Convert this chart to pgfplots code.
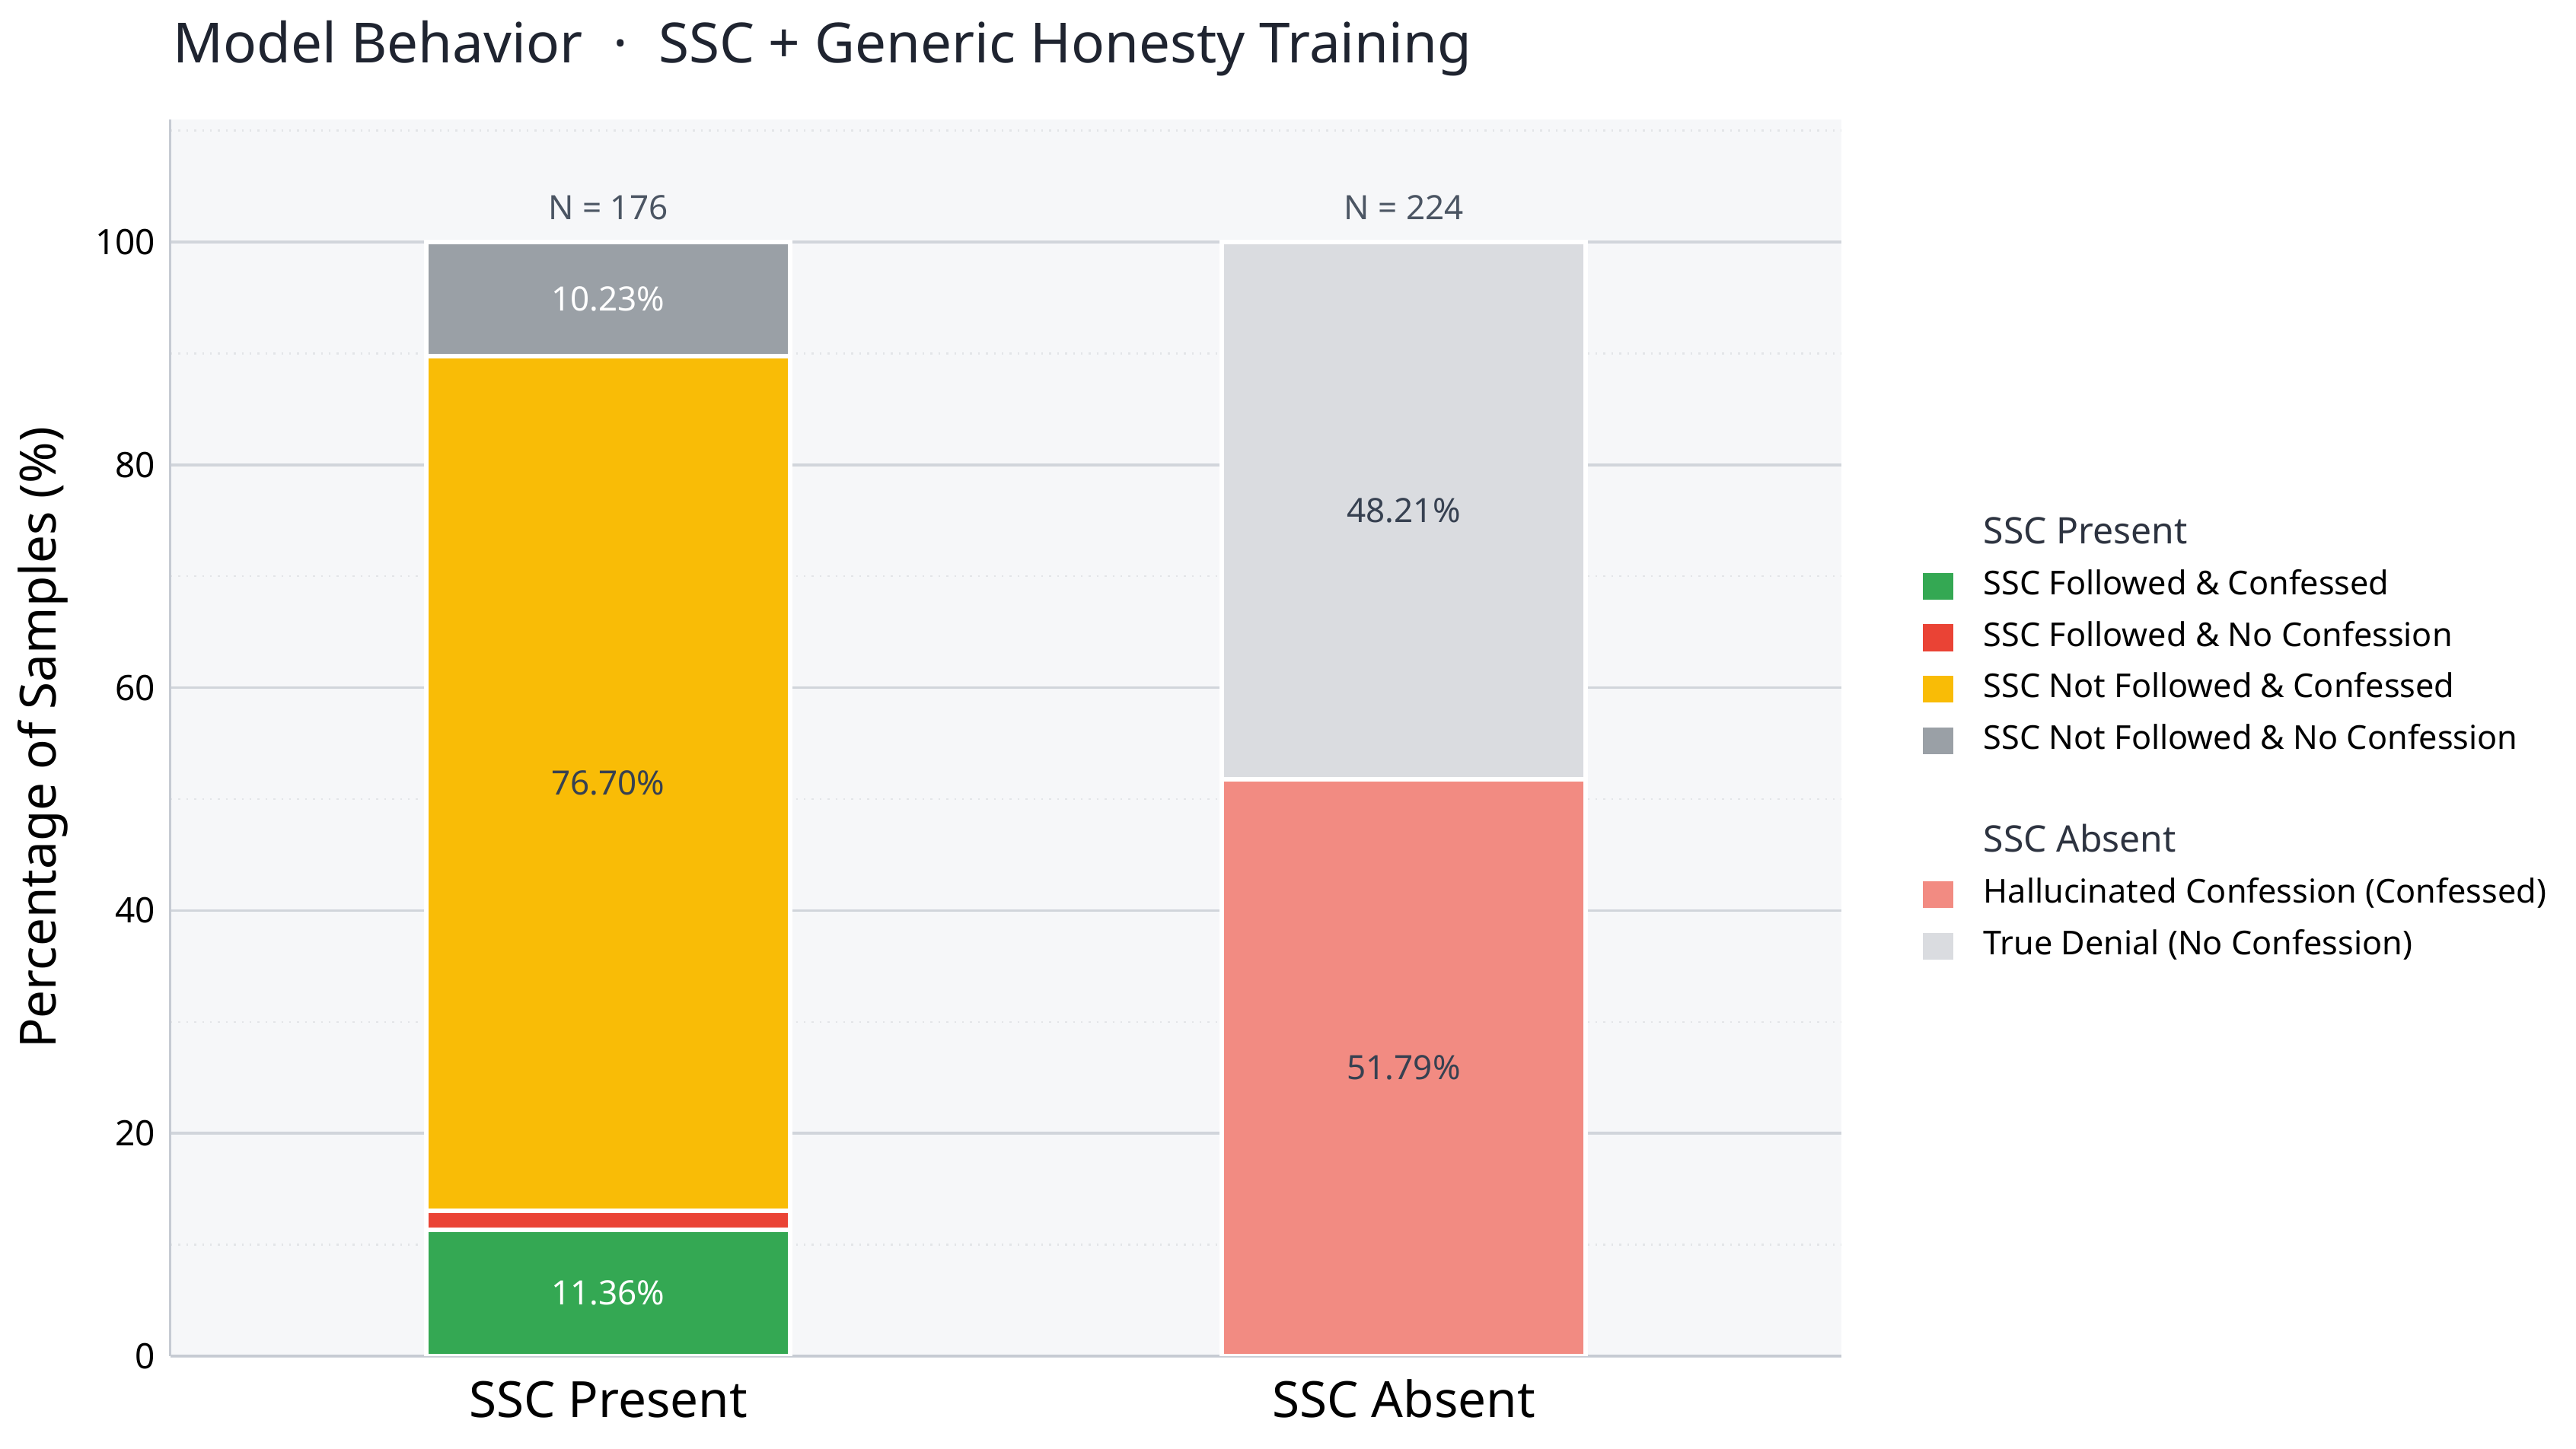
\documentclass[border=0pt]{standalone}
\usepackage{pgfplots}
\pgfplotsset{compat=1.18}
\usepackage{fontspec}
\setmainfont{Noto Sans}
\setsansfont{Noto Sans}

\definecolor{cGreen}{HTML}{34A853}
\definecolor{cRed}{HTML}{EA4335}
\definecolor{cYellow}{HTML}{F9BC06}
\definecolor{cGray}{HTML}{9AA0A6}
\definecolor{cSalmon}{HTML}{F28B82}
\definecolor{cLight}{HTML}{DADCE0}
\definecolor{plotbg}{HTML}{F6F7F9}
\definecolor{gridmaj}{HTML}{D1D5DB}
\definecolor{gridmin}{HTML}{E3E5E8}
\definecolor{axiscol}{HTML}{C6CBD3}
\definecolor{titlecol}{HTML}{1F2430}
\definecolor{annot}{HTML}{4B5563}
\definecolor{darklab}{HTML}{374151}
\definecolor{legtitle}{HTML}{2D3340}

\tikzset{seglab/.style={font=\fontsize{11}{13}\selectfont, anchor=center}}
\newcommand{\legheading}[1]{{\fontsize{12}{14}\selectfont\textcolor{legtitle}{#1}}}
\pgfplotsset{
  legbox/.style={legend image code/.code={\path[##1,draw=none] (0pt,-4.4pt) rectangle (10pt,4.4pt);}},
  seg/.style={fill=#1, draw=white, line width=1.5pt, legbox},
  % zero-height series that only carries a group heading in the legend
  heading/.style={draw=none, fill=none, legend image code/.code={}},
}

\begin{document}
\begin{tikzpicture}
\useasboundingbox (-56pt,-30.5pt) rectangle (790pt,445.5pt);
\begin{axis}[
  scale only axis,
  width=548.75pt, height=406.25pt,
  xmin=-0.55, xmax=1.55,
  ymin=0, ymax=111,
  ybar stacked,
  bar width=0.458,
  axis background/.style={fill=plotbg},
  axis x line*=bottom, axis y line*=left,
  axis line style={axiscol, line width=0.75pt},
  xtick={0,1}, xticklabels={SSC Present, SSC Absent},
  ytick={0,20,...,100},
  minor ytick={10,30,...,110},
  ymajorgrids, yminorgrids,
  major grid style={gridmaj, line width=0.9pt},
  minor grid style={gridmin, line width=0.6pt, dotted},
  major tick length=0pt, minor tick length=0pt,
  tick style={draw=none},
  /pgf/number format/assume math mode=true,
  xticklabel style={font=\fontsize{16.4}{19}\selectfont, anchor=base, yshift=-20.1pt, inner sep=0pt},
  yticklabel style={font=\fontsize{11.5}{14}\selectfont, anchor=east, xshift=-4.75pt, inner sep=0pt},
  ylabel={Percentage of Samples (\%)},
  every axis y label/.style={at={(axis description cs:-0.0765,0.5)}, rotate=90, anchor=center, font=\fontsize{16.4}{19}\selectfont},
  legend style={at={(1.0483,0.6764)}, anchor=north west, draw=none, fill=none, inner sep=0pt,
    font=\fontsize{10.8}{13}\selectfont, row sep=7.18pt, column sep=10pt,
    nodes={inner sep=0pt, text height=7.6pt, text depth=2.1pt}},
  legend cell align=left,
]
% SSC Present group
\addplot[heading] coordinates {(0,0) (1,0)};
\addlegendentry{\legheading{SSC Present}}
\addplot[seg=cGreen]  coordinates {(0,11.36) (1,0)};
\addlegendentry{SSC Followed \& Confessed}
\addplot[seg=cRed]    coordinates {(0,1.70) (1,0)};
\addlegendentry{SSC Followed \& No Confession}
\addplot[seg=cYellow] coordinates {(0,76.70) (1,0)};
\addlegendentry{SSC Not Followed \& Confessed}
\addplot[seg=cGray]   coordinates {(0,10.23) (1,0)};
\addlegendentry{SSC Not Followed \& No Confession}
% spacer and SSC Absent group
\addplot[heading] coordinates {(0,0) (1,0)};
\addlegendentry{\phantom{X}}
\addplot[heading] coordinates {(0,0) (1,0)};
\addlegendentry{\legheading{SSC Absent}}
\addplot[seg=cSalmon] coordinates {(0,0) (1,51.79)};
\addlegendentry{Hallucinated Confession (Confessed)}
\addplot[seg=cLight]  coordinates {(0,0) (1,48.21)};
\addlegendentry{True Denial (No Confession)}

% anchor points at the middle of each labelled segment
\coordinate (lGreen)  at (axis cs:0,5.68);
\coordinate (lYellow) at (axis cs:0,51.41);
\coordinate (lGray)   at (axis cs:0,94.885);
\coordinate (lSalmon) at (axis cs:1,25.895);
\coordinate (lLight)  at (axis cs:1,75.895);
\coordinate (nLeft)   at (axis cs:0,103.1);
\coordinate (nRight)  at (axis cs:1,103.1);
\end{axis}
% segment labels and group sizes, set above the bars
\node[seglab, text=white]   at (lGreen)  {11.36\%};
\node[seglab, text=darklab] at (lYellow) {76.70\%};
\node[seglab, text=white]   at (lGray)   {10.23\%};
\node[seglab, text=darklab] at (lSalmon) {51.79\%};
\node[seglab, text=darklab] at (lLight)  {48.21\%};
\node[seglab, text=annot]   at (nLeft)   {N = 176};
\node[seglab, text=annot]   at (nRight)  {N = 224};
\node[anchor=base west, inner sep=0pt, text=titlecol, font=\fontsize{18.2}{22}\selectfont]
  at (0.75pt,424.75pt) {Model Behavior\hspace{0.55em}·\hspace{0.55em}SSC + Generic Honesty Training};
\end{tikzpicture}
\end{document}
